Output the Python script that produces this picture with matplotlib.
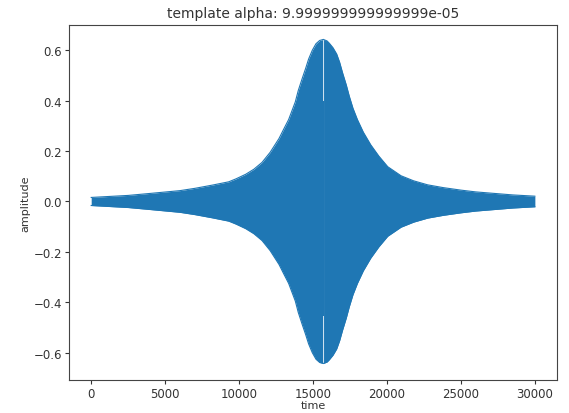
import numpy as np
import matplotlib
matplotlib.use("Agg")
import matplotlib.pyplot as plt

# Per-time extremes of the template waveform (upper envelope; lower mirrors it)
env_time = [0, 2500, 4000, 6000, 7000, 8200, 9300, 9800, 10450, 11000, 11550,
            12100, 12700, 13000, 13350, 13800, 14000, 14250, 14500, 14700,
            14950, 15200, 15450, 15700, 15950, 16100, 16350, 16600, 16800,
            17000, 17250, 17450, 17700, 18000, 18400, 18900, 19450, 20050,
            20950, 21800, 22750, 23800, 25000, 26000, 27250, 28500, 30000]
env_upper = [0.016, 0.024, 0.032, 0.043, 0.052, 0.065, 0.078, 0.090, 0.108,
             0.128, 0.155, 0.195, 0.25, 0.285, 0.325, 0.395, 0.44, 0.485,
             0.528, 0.565, 0.600, 0.626, 0.639, 0.643, 0.637, 0.628, 0.610,
             0.585, 0.552, 0.510, 0.462, 0.418, 0.37, 0.325, 0.275, 0.225,
             0.18, 0.138, 0.102, 0.082, 0.066, 0.055, 0.045, 0.038, 0.032,
             0.026, 0.021]
env_lower = [-v for v in env_upper]

# Narrow stretch near the peak where the waveform stays lower
dip_time = [15655, 15710]
dip_upper = 0.40
dip_lower = -0.455

title = "template alpha: 9.999999999999999e-05"
xlabel = "time"
ylabel = "amplitude"

color = "#1f77b4"

t = np.asarray(env_time, dtype=float)
up = np.asarray(env_upper)
lo = np.asarray(env_lower)

fig = plt.figure(figsize=(5.69, 4.14), dpi=100)
ax = fig.add_axes([0.1213, 0.0800, 0.8577, 0.857])

# split the band at the dip and fill each part
left = t < dip_time[0]
right = t > dip_time[1]
tl = np.append(t[left], dip_time[0])
ul = np.append(up[left], np.interp(dip_time[0], t, up))
ll = np.append(lo[left], np.interp(dip_time[0], t, lo))
tr = np.insert(t[right], 0, dip_time[1])
ur = np.insert(up[right], 0, np.interp(dip_time[1], t, up))
lr = np.insert(lo[right], 0, np.interp(dip_time[1], t, lo))

for tt, uu, ll_ in ((tl, ul, ll), (tr, ur, lr)):
    ax.fill_between(tt, ll_, uu, color=color, linewidth=0)
    ax.plot(tt, uu, color=color, linewidth=0.8)
    ax.plot(tt, ll_, color=color, linewidth=0.8)
ax.fill_between(dip_time, [dip_lower] * 2, [dip_upper] * 2, color=color,
                linewidth=0)

ax.set_xlim(-1500, 31500)
ax.set_ylim(-0.708, 0.700)
ax.set_xticks([0, 5000, 10000, 15000, 20000, 25000, 30000])
ax.set_yticks([-0.6, -0.4, -0.2, 0.0, 0.2, 0.4, 0.6])
ax.tick_params(labelsize=8.5, colors="#333333", length=3, pad=2)
for s in ax.spines.values():
    s.set_color("#444444")
ax.set_title(title, fontsize=10, color="#333333")
ax.set_xlabel(xlabel, fontsize=8, color="#333333", labelpad=0)
ax.set_ylabel(ylabel, fontsize=8, color="#333333", labelpad=2)

fig.savefig("out.png", dpi=100)
